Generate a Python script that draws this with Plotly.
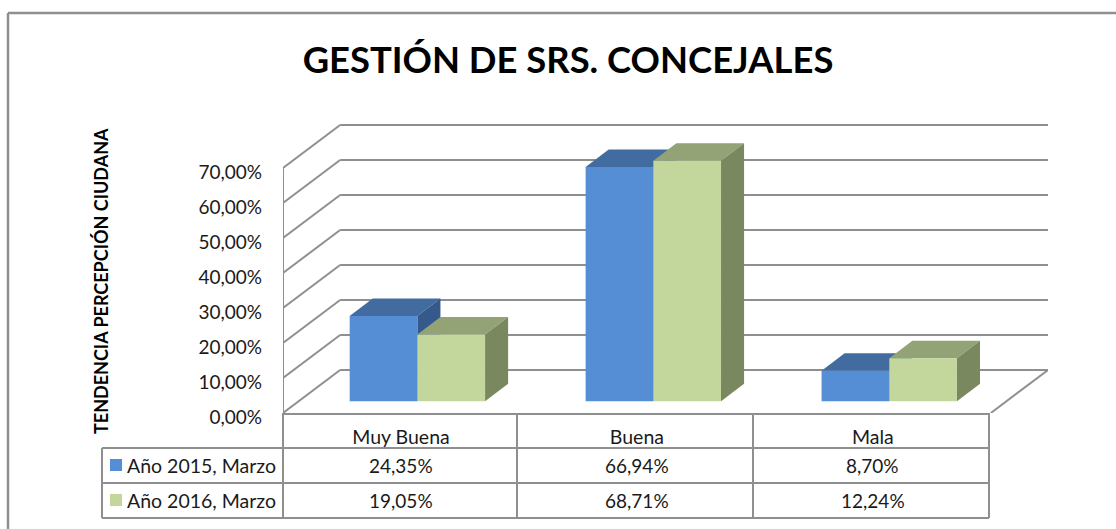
import plotly.graph_objects as go

# ---------- data ----------
categories = ["Muy Buena", "Buena", "Mala"]
series_names = ["Año 2015, Marzo", "Año 2016, Marzo"]
values_2015 = [24.35, 66.94, 8.70]
values_2016 = [19.05, 68.71, 12.24]
y_ticks = [0, 10, 20, 30, 40, 50, 60, 70]
y_tick_labels = ["0,00%", "10,00%", "20,00%", "30,00%", "40,00%", "50,00%", "60,00%", "70,00%"]
title_text = "GESTIÓN DE SRS. CONCEJALES"
y_title = "TENDENCIA PERCEPCIÓN CIUDANA"

# ---------- page geometry ----------
W, H = 1116, 529
L, R, T, B = 283, 1048, 124, 413
CAT_W = (989 - 283) / 3
PX_PER_V = 3.5
WALL_X = 57 / CAT_W
WALL_V = 43 / PX_PER_V
X0, X1 = -0.5, 2.5 + WALL_X
V_MAX = (B - T) / PX_PER_V
BAR_W = 67.5 / CAT_W
BAR_BASE = 11.8 / PX_PER_V
BAR_OFFS = [-0.074, 0.213]
DEP_X = 23 / CAT_W
DEP_V = 17.5 / PX_PER_V

LINE = "#8f8f8f"
TXT = "#1a1a1a"
FONT = "Lato"
FRONT = ["#558ed5", "#c3d69b"]
TOP = ["#426ca0", "#93a375"]
SIDE = ["#35598a", "#7a8860"]


def px(x):
    return (x - L) / (R - L)


def py(y):
    return (B - y) / (B - T)


def path(points):
    return "M " + " L ".join(f"{a},{b}" for a, b in points) + " Z"


shapes = []


def data_line(x0, y0, x1, y1):
    shapes.append(dict(type="line", xref="x", yref="y", x0=x0, y0=y0, x1=x1, y1=y1,
                       layer="below", line=dict(color=LINE, width=2)))


def page_line(x0, y0, x1, y1, width=2):
    shapes.append(dict(type="line", xref="paper", yref="paper", x0=px(x0), y0=py(y0),
                       x1=px(x1), y1=py(y1), layer="below", line=dict(color=LINE, width=width)))


# walls and floor
for v in y_ticks:
    data_line(X0, v, X0 + WALL_X, v + WALL_V)
    data_line(X0 + WALL_X, v + WALL_V, X1, v + WALL_V)
data_line(X0, y_ticks[0], X0, y_ticks[-1])
data_line(2.5, 0, X1, WALL_V)

fig = go.Figure()

# columns: front faces as bars, top and side faces as polygons derived from the values
for s, vals in enumerate([values_2015, values_2016]):
    xs = [i + BAR_OFFS[s] for i in range(len(categories))]
    for x, v in zip(xs, vals):
        xl, xr = x - BAR_W / 2, x + BAR_W / 2
        top = BAR_BASE + v
        shapes.append(dict(type="path", xref="x", yref="y", layer="below", line=dict(width=0),
                           fillcolor=TOP[s],
                           path=path([(xl, top), (xl + DEP_X, top + DEP_V),
                                      (xr + DEP_X, top + DEP_V), (xr, top)])))
        shapes.append(dict(type="path", xref="x", yref="y", layer="below", line=dict(width=0),
                           fillcolor=SIDE[s],
                           path=path([(xr, BAR_BASE), (xr, top), (xr + DEP_X, top + DEP_V),
                                      (xr + DEP_X, BAR_BASE + DEP_V)])))
    fig.add_trace(go.Bar(x=xs, y=vals, base=BAR_BASE, width=BAR_W, name=series_names[s],
                         marker=dict(color=FRONT[s], line=dict(width=0))))

# outer chart frame
page_line(8, 13, W, 13, 2.5)
page_line(8, 13, 8, H, 2.5)

# data table grid
page_line(283, 414, 989, 414)
for x in (283, 517, 753, 989):
    page_line(x, 413, x, 518)
for y in (448, 483, 518):
    page_line(102, y, 989, y)
page_line(102, 448, 102, 518)

annotations = []
row_y = [465, 500]
for s, (name, vals) in enumerate(zip(series_names, [values_2015, values_2016])):
    shapes.append(dict(type="rect", xref="paper", yref="paper", x0=px(110), x1=px(122),
                       y0=py(row_y[s] - 6), y1=py(row_y[s] + 6), layer="below",
                       line=dict(width=0), fillcolor=FRONT[s]))
    annotations.append(dict(xref="paper", yref="paper", x=px(125), y=py(row_y[s]), text=name,
                            showarrow=False, xanchor="left", yanchor="middle",
                            font=dict(family=FONT, size=19.5, color=TXT)))
    for i, v in enumerate(vals):
        annotations.append(dict(xref="x", yref="paper", x=i, y=py(row_y[s]),
                                text=f"{v:.2f}%".replace(".", ","), showarrow=False,
                                xanchor="center", yanchor="middle",
                                font=dict(family=FONT, size=19, color=TXT)))

annotations.append(dict(xref="paper", yref="paper", x=px(101), y=py(281), text=y_title,
                        textangle=-90, showarrow=False, xanchor="center", yanchor="middle",
                        font=dict(family=FONT, size=18, color="#000000", weight="bold")))

fig.update_layout(
    width=W, height=H, autosize=False,
    margin=dict(l=L, r=W - R, t=T, b=H - B, pad=0),
    paper_bgcolor="white", plot_bgcolor="rgba(0,0,0,0)",
    showlegend=False, barmode="overlay",
    title=dict(text=title_text, x=568 / W, y=1 - 60 / H, xref="container", yref="container",
               xanchor="center", yanchor="middle",
               font=dict(family=FONT, size=36.4, color="#000000", weight="bold")),
    shapes=shapes, annotations=annotations,
    xaxis=dict(range=[X0, X1], showgrid=False, zeroline=False, showline=False, ticks="",
               tickmode="array", tickvals=list(range(len(categories))), ticktext=categories,
               ticklabelstandoff=10, tickfont=dict(family=FONT, size=19.5, color=TXT)),
    yaxis=dict(range=[0, V_MAX], showgrid=False, zeroline=False, showline=False, ticks="",
               tickmode="array", tickvals=y_ticks, ticktext=y_tick_labels,
               ticklabelstandoff=20, ticklabelshift=4,
               tickfont=dict(family=FONT, size=19, color=TXT)),
)

fig.write_html("out.html", config=dict(displayModeBar=False),
               post_script="document.body.style.margin='0';document.body.style.overflow='hidden';")
